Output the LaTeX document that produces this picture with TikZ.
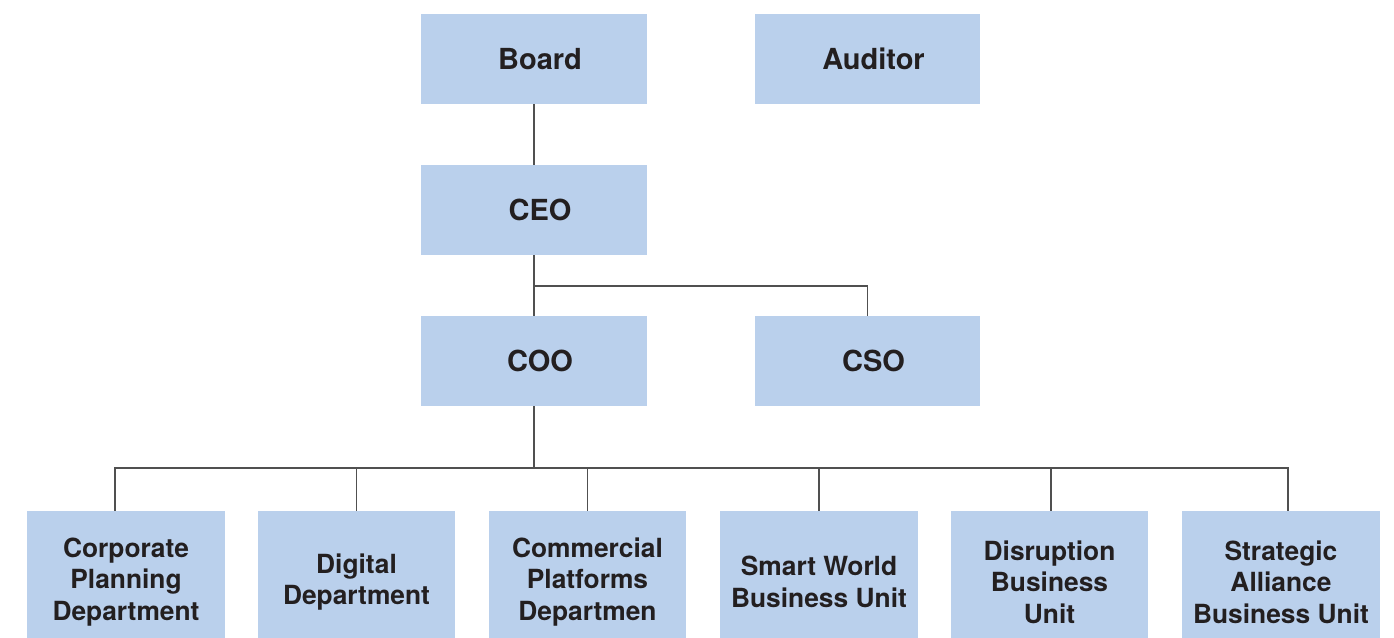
\documentclass[tikz,border=0pt]{standalone}
\usepackage{fontspec}
\setmainfont{TeX Gyre Heros}
\usepackage{tikz}
\usetikzlibrary{calc,positioning}
\definecolor{boxblue}{HTML}{BAD0EC}
\definecolor{inkgray}{HTML}{231F20}
\definecolor{linegray}{HTML}{505050}

\tikzset{
  unit/.style={rectangle, fill=boxblue, draw=none, text=inkgray, font=\fontsize{16.5}{19}\selectfont\bfseries,
               align=center, inner sep=0pt, minimum width=4.52cm, minimum height=1.8cm},
  dept/.style={unit, font=\fontsize{15}{18}\selectfont\bfseries, minimum width=3.96cm, minimum height=2.84cm},
  link/.style={draw=linegray, line width=0.6pt}
}

\begin{document}
\begin{tikzpicture}[x=0.02cm, y=-0.02cm]
    \useasboundingbox (0,0) rectangle (1394,637);

    % top levels
    \node[unit] (board) at (534,59) {\hspace*{0.24cm}Board};
    \node[unit] (auditor) at (867.5,59) {\hspace*{0.24cm}Auditor};
    \node[unit] (ceo) at (534,210) {\hspace*{0.24cm}CEO};
    \node[unit] (coo) at (534,361) {\hspace*{0.24cm}COO};
    \node[unit] (cso) at (867.5,361) {\hspace*{0.24cm}CSO};

    % departments and business units
    \node[dept] (corp) at (126,582) {Corporate\\Planning\\Department};
    \node[dept] (digital) at (356.5,582) {Digital\\Department};
    \node[dept] (commercial) at (587.5,582) {Commercial\\Platforms\\Departmen};
    \node[dept] (smart) at (819,582) {Smart World\\Business Unit};
    \node[dept] (disrupt) at (1049.5,582) {Disruption\\Business\\Unit};
    \node[dept] (alliance) at (1281,582) {Strategic\\Alliance\\Business Unit};

    \coordinate (ceobus) at (534,286);
    \coordinate (coobus) at (534,468);

    \draw[link] (board) -- (ceo);
    \draw[link] (ceo) -- (coo);
    \draw[link] (ceobus) -| (cso);

    \draw[link] (coo) -- (coobus);
    \draw[link] (coobus) -| ([xshift=-0.22cm]corp.north);
    \draw[link] (coobus) -| (digital);
    \draw[link] (coobus) -| (commercial);
    \draw[link] (coobus) -| (smart);
    \draw[link] (coobus) -| ([xshift=0.03cm]disrupt.north);
    \draw[link] (coobus) -| ([xshift=0.14cm]alliance.north);
\end{tikzpicture}
\end{document}
